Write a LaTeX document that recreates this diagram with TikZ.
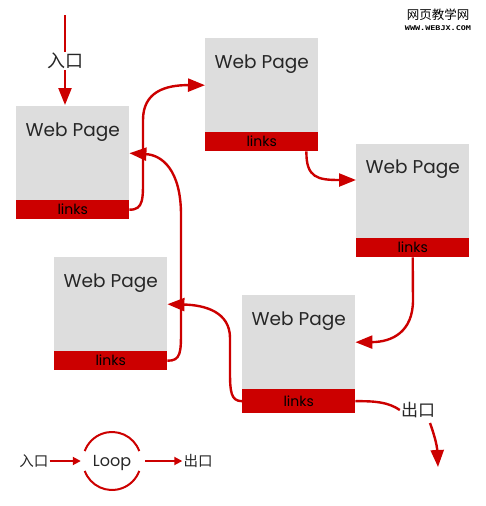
\documentclass[tikz,border=0pt]{standalone}
\usepackage{fontspec}
\setmainfont{Poppins}
\newfontfamily\cjk{Noto Sans CJK SC}
\newfontfamily\wmfont{DejaVu Sans Mono}
\usetikzlibrary{arrows.meta,calc}
\definecolor{linkred}{HTML}{CC0000}
\definecolor{pagegray}{HTML}{DDDDDD}
\tikzset{
  page/.style={fill=pagegray, minimum width=113pt, minimum height=94pt, anchor=north west, inner sep=0pt},
  linkbar/.style={fill=linkred, minimum width=113pt, minimum height=19pt, anchor=north west, inner sep=0pt, font=\fontsize{14pt}{15pt}\selectfont, text=black},
  title/.style={font=\fontsize{18.5pt}{20pt}\selectfont, text=black!85, inner sep=0pt},
  conn/.style={draw=linkred, line width=2.4pt, -{Triangle[length=17pt,width=13pt]}},
  plain/.style={draw=linkred, line width=2.4pt},
  cjklabel/.style={font=\cjk\fontsize{18pt}{19pt}\selectfont, text=black!85, inner sep=1pt},
  legarrow/.style={draw=linkred, line width=1.8pt, -{Triangle[length=8pt,width=8pt]}},
}
\begin{document}
\begin{tikzpicture}[x=1pt,y=-1pt]
\useasboundingbox (0,0) rectangle (485,506);
% pages
\node[page] (p1) at (16,106) {};
\node[linkbar] (l1) at (16,200) {links};
\node[title] at ($(p1.north)+(0,26)$) {Web Page};
\node[page] (p2) at (205,38) {};
\node[linkbar] (l2) at (205,132) {links};
\node[title] at ($(p2.north)+(0,26)$) {Web Page};
\node[page] (p3) at (356,144) {};
\node[linkbar] (l3) at (356,238) {links};
\node[title] at ($(p3.north)+(0,25)$) {Web Page};
\node[page] (p4) at (54,257) {};
\node[linkbar] (l4) at (54,351) {links};
\node[title] at ($(p4.north)+(0,26)$) {Web Page};
\node[page] (p5) at (242,295) {};
\node[linkbar, minimum height=24pt] (l5) at (242,389) {links};
\node[title] at ($(p5.north)+(0,26)$) {Web Page};
% entry
\coordinate (entry) at (65,15);
\node[cjklabel, fill=white] (inlbl) at (65,61) {入口};
\draw[plain] (entry) -- (inlbl.north);
\draw[conn] (inlbl.south) -- (65,105);
% connectors
\draw[conn] (l1.east) .. controls (144,210) and (143,198) .. (143,175) -- (143,120) .. controls (143,92) and (165,85) .. (p2.west);
\draw[conn] (l2.south east) ++(-12,0) .. controls (306,178) and (318,180) .. ($(p3.north west)+(0,36)$);
\draw[conn] (l3.south) -- (413,300) .. controls (413,332) and (392,342) .. (p5.east);
\draw[conn] (l5.west) .. controls (231,401) and (230,392) .. (230,372) -- (230,338) .. controls (230,312) and (205,305) .. (p4.east);
\draw[conn] (l4.east) .. controls (181,361) and (181,352) .. (181,330) -- (181,215) .. controls (181,170) and (162,155) .. (p1.east);
% exit
\node[cjklabel, font=\cjk\fontsize{17pt}{18pt}\selectfont] (outlbl) at (418,410) {出口};
\draw[plain] (l5.east) .. controls (375,401) and (388,402) .. (outlbl.west);
\draw[conn] ($(outlbl.south)+(12,4)$) .. controls (434,434) and (437,445) .. (438,467);
% legend
\node[cjklabel, font=\cjk\fontsize{14.5pt}{15pt}\selectfont] (lin) at (34,461) {入口};
\node[inner sep=0pt, minimum size=58pt, font=\fontsize{16pt}{17pt}\selectfont, text=black!85] (loop) at (112,461) {};
\node[inner sep=0pt, font=\fontsize{16pt}{17pt}\selectfont, text=black!85] at ($(loop.center)+(0,2)$) {Loop};
\draw[plain, line width=2pt] (loop.center) ++(20:29pt) arc (20:160:29pt);
\draw[plain, line width=2pt] (loop.center) ++(200:29pt) arc (200:340:29pt);
\draw[legarrow] (lin.east) -- ($(loop.west)+(-2,0)$);
\node[cjklabel, font=\cjk\fontsize{14.5pt}{15pt}\selectfont] (lout) at (198,461) {出口};
\draw[legarrow] ($(loop.east)+(4,0)$) -- (lout.west);
% watermark
\node[font=\cjk\fontsize{12.5pt}{13pt}\selectfont, inner sep=0pt] (wm1) at (438,15) {网页教学网};
\node[font=\wmfont\bfseries\fontsize{6.5pt}{7pt}\selectfont, inner sep=0pt, xscale=1.3] (wm2) at (438,28) {WWW.WEBJX.COM};
\end{tikzpicture}
\end{document}
